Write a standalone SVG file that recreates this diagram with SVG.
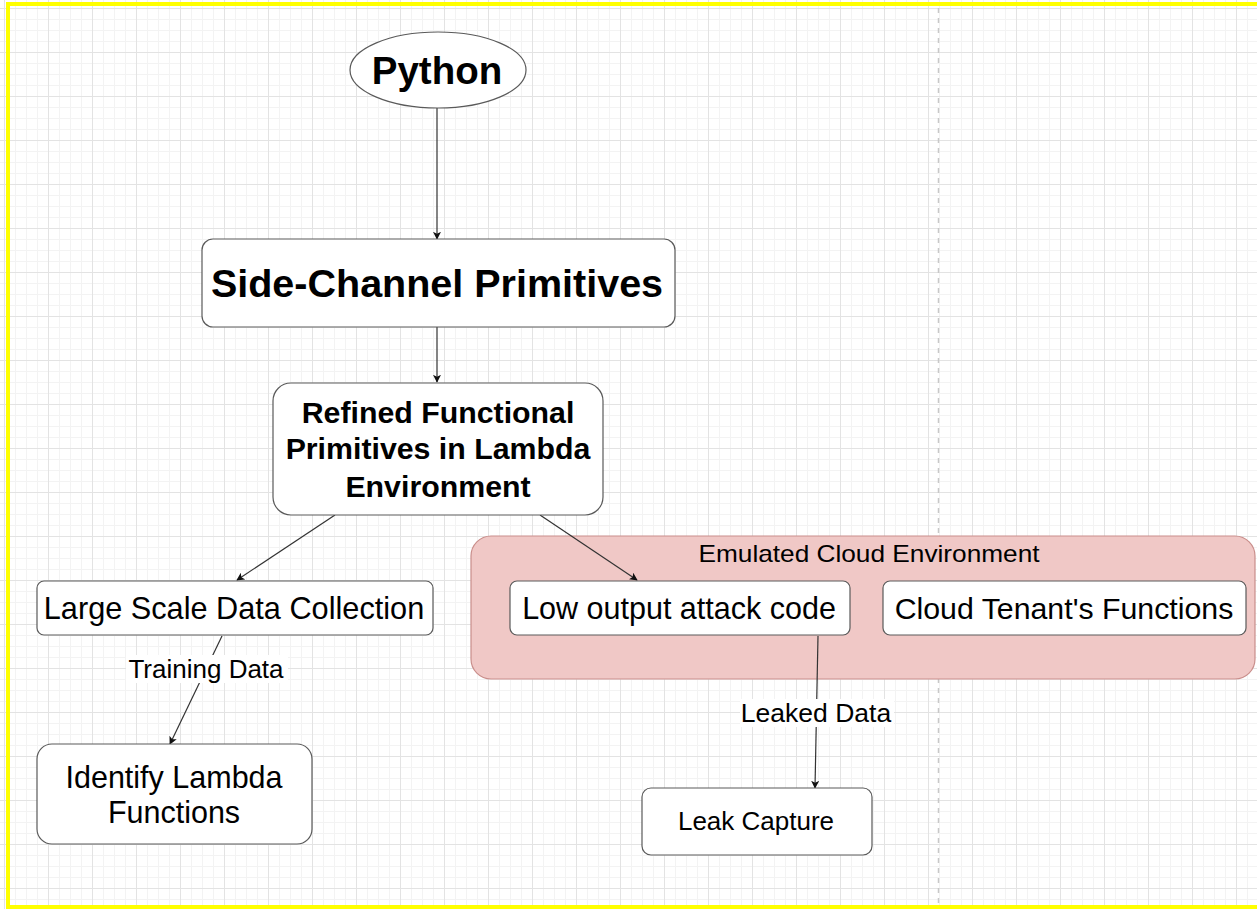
<svg xmlns="http://www.w3.org/2000/svg" width="1257" height="909" viewBox="0 0 1257 909">
  <style>
    .box { fill: #ffffff; stroke: #5a5a5a; stroke-width: 1.2; }
    .t { font-family: "Liberation Sans", Arial, sans-serif; fill: #000000; text-anchor: middle; dominant-baseline: central; }
    .b { font-weight: bold; }
    .edge { fill: none; stroke: #333333; stroke-width: 1.2; marker-end: url(#arr); }
    .lbl { fill: #ffffff; }
  </style>
  <defs>
    <pattern id="grid" width="44" height="44" patternUnits="userSpaceOnUse" x="4" y="8">
      <rect width="44" height="44" fill="#ffffff"/>
      <path d="M11.5 0V44M22.5 0V44M33.5 0V44M0 11.5H44M0 22.5H44M0 33.5H44" stroke="#f3f3f3" stroke-width="1"/>
      <path d="M0.5 0V44M0 0.5H44" stroke="#e3e3e3" stroke-width="1"/>
    </pattern>
    <marker id="arr" viewBox="0 0 10 10" refX="9" refY="5" markerWidth="8" markerHeight="8" markerUnits="userSpaceOnUse" orient="auto">
      <path d="M0 0L10 5L0 10L2.5 5Z" fill="#111111"/>
    </marker>
  </defs>

  <rect x="0" y="0" width="1257" height="909" fill="url(#grid)"/>
  <line x1="938.5" y1="8" x2="938.5" y2="905" stroke="#c8c8c8" stroke-width="1.5" stroke-dasharray="5 5"/>
  <rect x="8" y="4" width="1260" height="903" fill="none" stroke="#ffff00" stroke-width="4"/>

  <g id="container-emulated">
    <rect x="471" y="536" width="784" height="143" rx="20" fill="#f0c8c6" stroke="#c98e8b" stroke-width="1.2"/>
    <text class="t" x="869" y="553" font-size="24" textLength="341" lengthAdjust="spacingAndGlyphs">Emulated Cloud Environment</text>
  </g>

  <g id="connectors">
    <line class="edge" x1="437" y1="108" x2="437" y2="239"/>
    <line class="edge" x1="437" y1="327" x2="437" y2="382"/>
    <line class="edge" x1="335" y1="515" x2="237" y2="580"/>
    <line class="edge" x1="540" y1="515" x2="637" y2="580"/>
    <line class="edge" x1="222" y1="636" x2="170" y2="744"/>
    <line class="edge" x1="818" y1="636" x2="815" y2="788"/>
    <rect class="lbl" x="126" y="655" width="162" height="28"/>
    <text class="t" x="206" y="669" font-size="26">Training Data</text>
    <rect class="lbl" x="740" y="699" width="154" height="28"/>
    <text class="t" x="816" y="713" font-size="26.5">Leaked Data</text>
  </g>

  <g id="node-python">
    <ellipse cx="438" cy="70" rx="88" ry="38" fill="#ffffff" stroke="#5a5a5a" stroke-width="1.2"/>
    <text class="t b" x="437" y="70" font-size="38.5">Python</text>
  </g>

  <g id="node-side-channel">
    <rect class="box" x="202" y="239" width="473" height="88" rx="11"/>
    <text class="t b" x="437" y="283" font-size="39.5">Side-Channel Primitives</text>
  </g>

  <g id="node-refined">
    <rect class="box" x="273" y="383" width="330" height="132" rx="18"/>
    <text class="t b" x="438" y="412" font-size="30.3">Refined Functional</text>
    <text class="t b" x="438" y="448" font-size="30.3">Primitives in Lambda</text>
    <text class="t b" x="438" y="486" font-size="30.3">Environment</text>
  </g>

  <g id="node-large-scale">
    <rect class="box" x="37" y="581" width="396" height="54" rx="7"/>
    <text class="t" x="234" y="608" font-size="30.7">Large Scale Data Collection</text>
  </g>

  <g id="node-identify">
    <rect class="box" x="37" y="744" width="275" height="100" rx="15"/>
    <text class="t" x="174" y="777" font-size="30.5">Identify Lambda</text>
    <text class="t" x="174" y="812" font-size="30.5">Functions</text>
  </g>

  <g id="node-low-output">
    <rect class="box" x="510" y="581" width="340" height="54" rx="7"/>
    <text class="t" x="679" y="608" font-size="30.5">Low output attack code</text>
  </g>

  <g id="node-cloud-tenant">
    <rect class="box" x="883" y="581" width="363" height="54" rx="7"/>
    <text class="t" x="1064" y="608" font-size="30.3">Cloud Tenant's Functions</text>
  </g>

  <g id="node-leak-capture">
    <rect class="box" x="642" y="788" width="230" height="67" rx="9"/>
    <text class="t" x="756" y="821" font-size="26">Leak Capture</text>
  </g>
</svg>
